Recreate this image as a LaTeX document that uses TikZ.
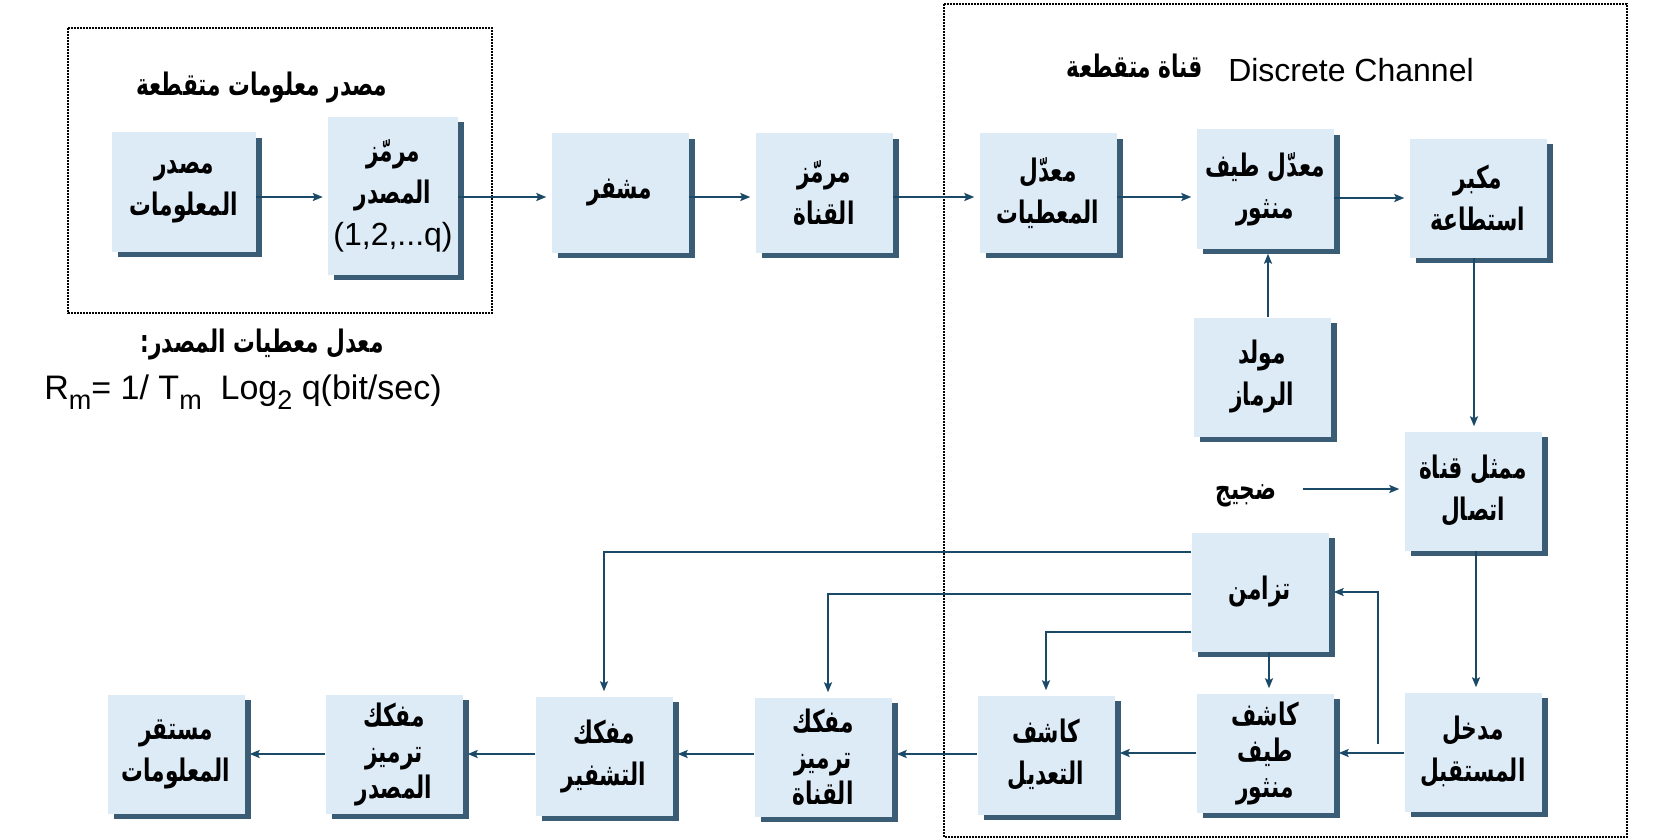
\documentclass[tikz,border=0pt]{standalone}
\usepackage{fontspec}
\setmainfont{Liberation Sans}
\newfontfamily\arabicfont[Script=Arabic,FakeStretch=0.7]{DejaVu Sans}
\TeXXeTstate=1
\usetikzlibrary{shadows,arrows.meta}
\definecolor{boxfill}{RGB}{221,235,247}
\definecolor{boxshade}{RGB}{59,92,117}
\definecolor{flowline}{RGB}{26,74,104}
\newcommand{\ar}[1]{{\arabicfont\bfseries\beginR #1\endR}}
\newcommand{\sub}[1]{\raisebox{-0.28em}{\fontsize{27}{27}\selectfont #1}}
\begin{document}
\begin{tikzpicture}[x=1pt,y=-1pt,
    block/.style={fill=boxfill,minimum width=137pt,minimum height=119pt,inner sep=0pt,
      align=center,font=\fontsize{31}{42}\selectfont,
      drop shadow={shadow xshift=6pt,shadow yshift=-5pt,opacity=1,fill=boxshade}},
    tight/.style={font=\fontsize{31}{36}\selectfont},
    flow/.style={line width=2pt,draw=flowline,-{Stealth[length=10pt,width=8pt,inset=2pt]},shorten >=5pt},
    frame/.style={densely dotted,line width=2pt},
    label/.style={inner sep=0pt,font=\fontsize{31}{34}\selectfont}
  ]
  \useasboundingbox (0,0) rectangle (1680,840);
  \draw[frame] (68,28) rectangle (492,313);
  \draw[frame] (944,4) rectangle (1627,837);

  \node[label] (srctitle) at (262,88) {\ar{مصدر معلومات متقطعة}};
  \node[label] (chtitle) at (1135,66) {\ar{قناة متقطعة}};
  \node[label,font=\fontsize{32}{36}\selectfont] (chname) at (1351,70) {Discrete Channel};
  \node[label] (ratetitle) at (262,345) {\ar{معدل معطيات المصدر:}};
  \node[label,font=\fontsize{34}{38}\selectfont] (rate) at (243,392)
    {R\sub{m}= 1/ T\sub{m}\ \ Log\sub{2} q(bit/sec)};

  \node[block,minimum width=144pt] (src) at (184,192) {\ar{مصدر}\\\ar{المعلومات}};
  \node[block,minimum width=130pt,minimum height=157pt] (srcenc) at (393,196)
    {\ar{مرمّز}\\\ar{المصدر}\\{\fontsize{32}{36}\selectfont(1,2,...q)}};
  \node[block] (enc) at (620,193) {\ar{مشفر}};
  \node[block] (chenc) at (824,193) {\ar{مرمّز}\\\ar{القناة}};
  \node[block] (datamod) at (1048,193) {\ar{معدّل}\\\ar{المعطيات}};
  \node[block] (ssmod) at (1265,189) {\ar{معدّل طيف}\\\ar{منثور}};
  \node[block] (amp) at (1478,198) {\ar{مكبر}\\\ar{استطاعة}};
  \node[block] (codegen) at (1262,377) {\ar{مولد}\\\ar{الرماز}};
  \node[block] (chmodel) at (1473,491) {\ar{ممثل قناة}\\\ar{اتصال}};
  \node[label] (noise) at (1246,496) {\ar{ضجيج}};
  \node[block] (sync) at (1260,592) {\ar{تزامن}};
  \node[block] (rxin) at (1473,752) {\ar{مدخل}\\\ar{المستقبل}};
  \node[block,tight] (ssdet) at (1265,753) {\ar{كاشف}\\\ar{طيف}\\\ar{منثور}};
  \node[block] (demod) at (1046,755) {\ar{كاشف}\\\ar{التعديل}};
  \node[block,tight] (chdec) at (823,757) {\ar{مفكك}\\\ar{ترميز}\\\ar{القناة}};
  \node[block] (decr) at (604,756) {\ar{مفكك}\\\ar{التشفير}};
  \node[block,tight] (srcdec) at (394,754) {\ar{مفكك}\\\ar{ترميز}\\\ar{المصدر}};
  \node[block] (sink) at (176,754) {\ar{مستقر}\\\ar{المعلومات}};
  \coordinate (tap) at (1378,744);

  \draw[flow] (src.east |- 0,197) -- (srcenc.west |- 0,197);
  \draw[flow] (srcenc.east |- 0,197) -- (enc.west |- 0,197);
  \draw[flow] (enc.east |- 0,197) -- (chenc.west |- 0,197);
  \draw[flow] (chenc.east |- 0,197) -- (datamod.west |- 0,197);
  \draw[flow] (datamod.east |- 0,197) -- (ssmod.west |- 0,197);
  \draw[flow] (ssmod.east |- 0,198) -- (amp.west |- 0,198);
  \draw[flow] (codegen.north -| 1268,0) -- (ssmod.south -| 1268,0);
  \draw[flow] (amp.south -| 1474,0) -- (chmodel.north -| 1474,0);
  \draw[flow] (noise.east -| 1303,0) ++(0,-7) -- (chmodel.west |- 0,489);
  \draw[flow] (chmodel.south -| 1476,0) -- (rxin.north -| 1476,0);
  \draw[flow] (rxin.west |- 0,753) -- (ssdet.east |- 0,753);
  \draw[flow] (tap) |- (sync.east);
  \draw[flow] (ssdet.west |- 0,753) -- (demod.east |- 0,753);
  \draw[flow] (sync.south -| 1269,0) -- (ssdet.north -| 1269,0);
  \draw[flow] ([yshift=-40pt]sync.west) -| (demod.north);
  \draw[flow] ([yshift=40pt]sync.west) -| (decr.north);
  \draw[flow] ([yshift=-2pt]sync.west) -| (chdec.north -| 828,0);
  \draw[flow] (demod.west |- 0,754) -- (chdec.east |- 0,754);
  \draw[flow] (chdec.west |- 0,754) -- (decr.east |- 0,754);
  \draw[flow] (decr.west |- 0,754) -- (srcdec.east |- 0,754);
  \draw[flow] (srcdec.west |- 0,754) -- (sink.east |- 0,754);
\end{tikzpicture}
\end{document}
